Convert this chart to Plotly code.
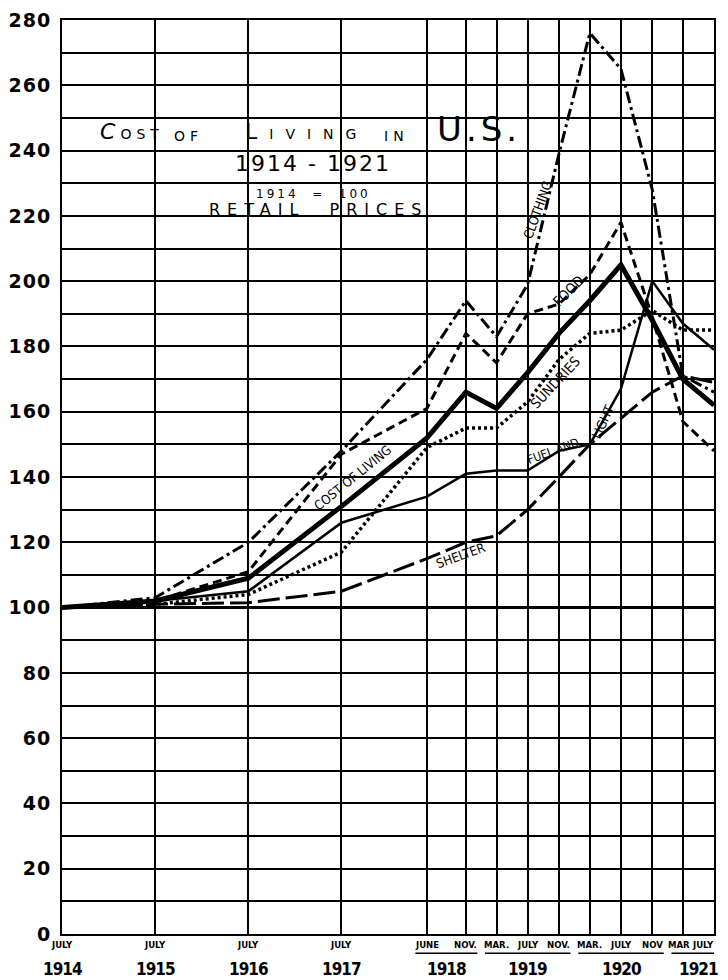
import pandas as pd
import plotly.graph_objects as go

# survey dates (index 1914 = 100, retail prices)
dates = ["1914-07-01", "1915-07-01", "1916-07-01", "1917-07-01", "1918-06-01",
         "1918-11-01", "1919-03-01", "1919-07-01", "1919-11-01", "1920-03-01",
         "1920-07-01", "1920-11-01", "1921-03-01", "1921-07-01"]
month_labels = ["JULY", "JULY", "JULY", "JULY", "JUNE", "NOV.", "MAR.", "JULY",
                "NOV.", "MAR.", "JULY", "NOV", "MAR", "JULY"]

clothing = [100, 103, 120, 148, 176, 194, 183, 199, 239, 276, 265, 228, 171, 166]
food = [100, 102, 111, 147, 161, 184, 175, 190, 193, 202, 218, 189, 157, 148]
cost_of_living = [100, 102, 109, 131, 152, 166, 161, 172, 184, 194, 205, 188, 170, 162]
fuel_light = [100, 102, 105, 126, 134, 141, 142, 142, 148, 150, 167, 200, 187, 179]
sundries = [100, 101, 104, 117, 149, 155, 155, 163, 176, 184, 185, 191, 185, 185]
shelter = [100, 101, 101.5, 105, 115, 120, 122, 130, 140, 150, 158, 166, 171, 169]

# year captions: (text, first date, last date)
years = [("1914", "1914-07-01", "1914-07-01"), ("1915", "1915-07-01", "1915-07-01"),
         ("1916", "1916-07-01", "1916-07-01"), ("1917", "1917-07-01", "1917-07-01"),
         ("1918", "1918-06-01", "1918-11-01"), ("1919", "1919-03-01", "1919-11-01"),
         ("1920", "1920-03-01", "1920-11-01"), ("1921", "1921-03-01", "1921-07-01")]

# line labels: (text, date, value, angle, size)
line_labels = [("CLOTHING", "1919-08-10", 222, -70, 13),
               ("FOOD", "1919-12-07", 197, -45, 14),
               ("SUNDRIES", "1919-10-20", 169, -47, 14),
               ("FUEL AND", "1919-10-10", 148, -20, 12),
               ("LIGHT", "1920-04-22", 157, -66, 13),
               ("COST OF LIVING", "1917-08-15", 140, -39, 13),
               ("SHELTER", "1918-10-12", 116, -20, 13)]

INK = "black"
COND = "Liberation Sans Narrow, DejaVu Sans Condensed, sans-serif"
X_START, X_END = "1914-07-01", "1921-07-01"

fig = go.Figure()

series = [
    (clothing, "Clothing", 3, "12px,4px,3px,4px"),
    (food, "Food", 3, "9px,5px"),
    (sundries, "Sundries", 3.5, "3px,3px"),
    (shelter, "Shelter", 3, "22px,6px"),
    (fuel_light, "Fuel and light", 2.5, "solid"),
    (cost_of_living, "Cost of living", 5, "solid"),
]
for vals, name, w, dash in series:
    fig.add_trace(go.Scatter(
        x=dates, y=vals, mode="lines", name=name,
        line=dict(color=INK, width=w, dash=dash)
    ))

fig.add_hline(y=100, line=dict(color=INK, width=3))

for text, x, y, ang, size in line_labels:
    fig.add_annotation(x=x, y=y, text=text, textangle=ang, showarrow=False,
                       font=dict(family=COND, size=size, color=INK))

# month / year captions under the axis; the last two are squeezed at the edge
n = len(dates)
for i, (d, m) in enumerate(zip(dates, month_labels)):
    anchor, dx = "center", 0
    if i == n - 2:
        dx = -4
    elif i == n - 1:
        anchor, dx = "right", 2
    fig.add_annotation(x=d, y=0, yref="paper", yanchor="middle", yshift=-10,
                       xanchor=anchor, xshift=dx, text=m, showarrow=False,
                       font=dict(family=COND, size=9.5, color=INK, weight="bold"))

end = pd.Timestamp(X_END)
for text, first, last in years:
    a, b = pd.Timestamp(first), pd.Timestamp(last)
    mid = a + (b - a) / 2
    fig.add_annotation(x=mid, y=0, yref="paper", yanchor="middle", yshift=-35,
                       text='<span style="letter-spacing:-1px">%s</span>' % text,
                       showarrow=False,
                       font=dict(family=COND, size=17, color=INK, weight="bold"))
    if first != last:
        fig.add_shape(type="line", xref="x", yref="paper",
                      x0=a - pd.Timedelta(days=45),
                      x1=min(b + pd.Timedelta(days=45), end),
                      y0=-0.021, y1=-0.021, line=dict(color=INK, width=1.5))

# chart title block, one annotation per word so the spacing follows the lettering
big = '<span style="font-size:22px">%s</span>'
title_words = [
    ((big % "<i>C</i>") + "OST", 0.0552, 5, 0),
    ("OF", 0.1687, 5, 0),
    ((big % "L") + "IVING", 0.2776, 12, 0),
    ("IN", 0.4908, 5, 0),
    ('<span style="font-size:34px">U.S.</span>', 0.5721, 4, -5),
]
for text, xpos, spacing, dy in title_words:
    fig.add_annotation(xref="paper", yref="paper", x=xpos, y=0.862, yshift=dy,
                       xanchor="left", yanchor="bottom", showarrow=False,
                       text='<span style="letter-spacing:%dpx">%s</span>' % (spacing, text),
                       font=dict(family="DejaVu Sans", size=14, color=INK))

sub_lines = [("1914 - 1921", 0.385, 0.8425, 22, 2),
             ("1914  =  100", 0.3865, 0.8096, 12, 3),
             ("RETAIL  PRICES", 0.393, 0.7932, 16, 7)]
for text, xpos, ypos, size, spacing in sub_lines:
    fig.add_annotation(xref="paper", yref="paper", x=xpos, y=ypos,
                       xanchor="center", yanchor="middle", showarrow=False,
                       text='<span style="letter-spacing:%dpx">%s</span>' % (spacing, text),
                       font=dict(family="DejaVu Sans", size=size, color=INK))

yticks = list(range(0, 281, 10))

# the page adds an 8px body margin, so the figure is sized to the visible area
fig.update_layout(
    width=720, height=972,
    margin=dict(l=54, r=14, t=12, b=46),
    paper_bgcolor="white", plot_bgcolor="white",
    showlegend=False,
    xaxis=dict(
        type="date", range=[X_START, X_END],
        tickvals=dates, showticklabels=False, ticks="", automargin=False,
        showgrid=True, gridcolor=INK, gridwidth=1.5,
        showline=True, linecolor=INK, linewidth=2, mirror=True, zeroline=False
    ),
    yaxis=dict(
        range=[0, 280], automargin=False,
        tickvals=yticks,
        ticktext=['<span style="letter-spacing:1px">%d</span>' % v if v % 20 == 0 else ""
                  for v in yticks],
        ticks="", ticklabelstandoff=5,
        tickfont=dict(family="DejaVu Sans", size=19, color=INK, weight="bold"),
        showgrid=True, gridcolor=INK, gridwidth=1.5,
        showline=True, linecolor=INK, linewidth=2, mirror=True, zeroline=False
    ),
)

fig.write_html("out.html")
